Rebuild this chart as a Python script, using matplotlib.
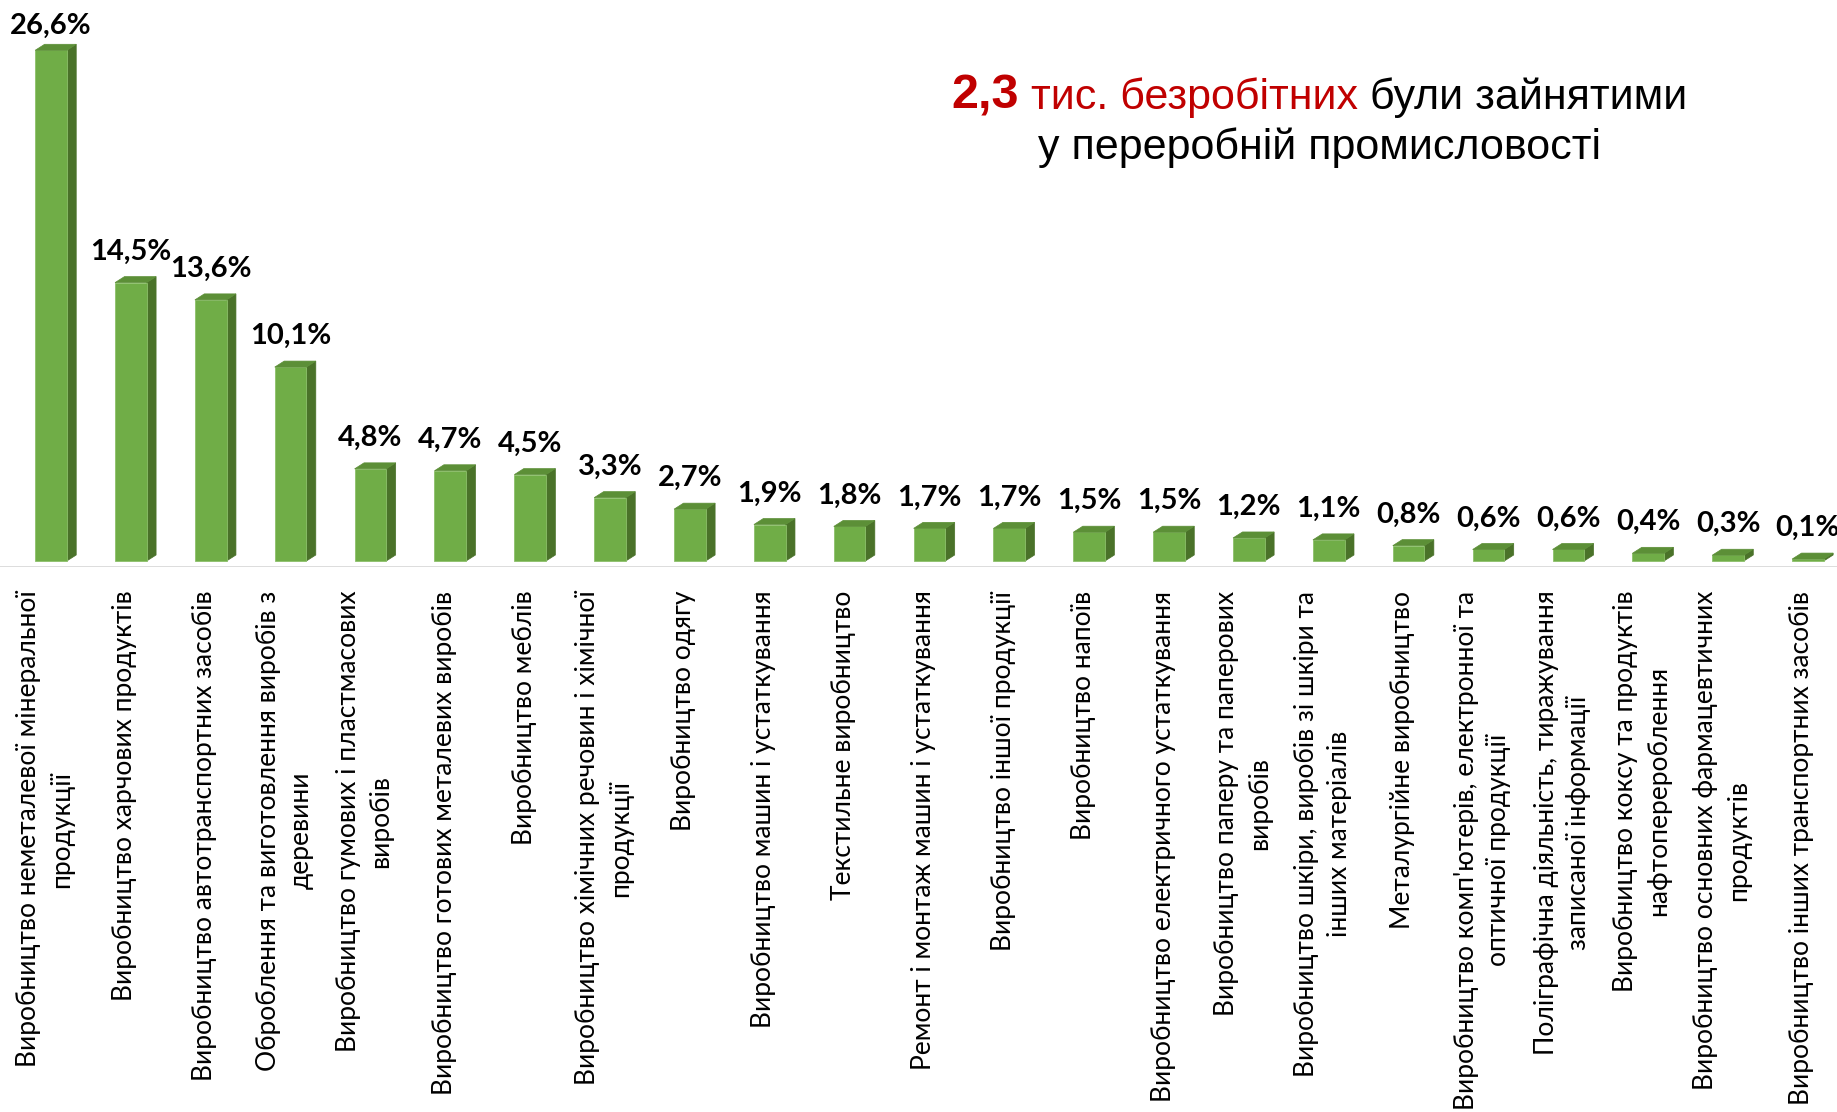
import matplotlib.pyplot as plt
from matplotlib.patches import Polygon

categories = [
    "Виробництво неметалевої мінеральної\nпродукції",
    "Виробництво харчових продуктів",
    "Виробництво автотранспортних засобів",
    "Оброблення та виготовлення виробів з\nдеревини",
    "Виробництво гумових і пластмасових\nвиробів",
    "Виробництво готових металевих виробів",
    "Виробництво меблів",
    "Виробництво хімічних речовин і хімічної\nпродукції",
    "Виробництво одягу",
    "Виробництво машин і устаткування",
    "Текстильне виробництво",
    "Ремонт і монтаж машин і устаткування",
    "Виробництво іншої продукції",
    "Виробництво напоїв",
    "Виробництво електричного устаткування",
    "Виробництво паперу та паперових\nвиробів",
    "Виробництво шкіри, виробів зі шкіри та\nінших матеріалів",
    "Металургійне виробництво",
    "Виробництво комп'ютерів, електронної та\nоптичної продукції",
    "Поліграфічна діяльність, тиражування\nзаписаної інформації",
    "Виробництво коксу та продуктів\nнафтоперероблення",
    "Виробництво основних фармацевтичних\nпродуктів",
    "Виробництво інших транспортних засобів",
]
shares = [26.6, 14.5, 13.6, 10.1, 4.8, 4.7, 4.5, 3.3, 2.7, 1.9, 1.8, 1.7, 1.7,
          1.5, 1.5, 1.2, 1.1, 0.8, 0.6, 0.6, 0.4, 0.3, 0.1]
value_labels = [f"{v:.1f}%".replace(".", ",") for v in shares]

FRONT = "#70ad47"
SIDE = "#4a7229"
TOP = "#5c8f37"

W, H = 1837, 1112
fig = plt.figure(figsize=(W / 100, H / 100), dpi=100)

# axes: y=0 at bar bottoms, 19.2 px per percent
px_per_unit_y = 19.2
axis_px = 567
ax = fig.add_axes([0, 1 - axis_px / H, 1, axis_px / H])
y0 = -6 / px_per_unit_y
ymax = y0 + axis_px / px_per_unit_y
ax.set_ylim(y0, ymax)
pitch = 79.86
ax.set_xlim(-45 / pitch, (W - 45) / pitch)

x = list(range(len(shares)))
shift = 0.075
bw = 0.396
dx = 0.118
dy = 6 / px_per_unit_y
label_gap = 17 / px_per_unit_y
label_top = ymax - 34 / px_per_unit_y

ax.bar([i + shift for i in x], shares, width=bw, color=FRONT,
       edgecolor="#8cc06a", linewidth=0.6, zorder=3)
for i, v in zip(x, shares):
    left = i + shift - bw / 2
    right = i + shift + bw / 2
    ax.add_patch(Polygon([(right, 0), (right + dx, dy), (right + dx, v + dy), (right, v)],
                         closed=True, facecolor=SIDE, edgecolor=SIDE, linewidth=0.5, zorder=2))
    ax.add_patch(Polygon([(left, v), (right, v), (right + dx, v + dy), (left + dx, v + dy)],
                         closed=True, facecolor=TOP, edgecolor=TOP, linewidth=0.5, zorder=4))
    ax.text(i + shift, min(v + dy + label_gap, label_top), value_labels[i],
            ha="center", va="baseline", fontsize=21, fontweight="bold",
            family="Lato", color="black")

ax.axhline(y0, color="#d9d9d9", linewidth=2, zorder=1)
ax.set_xticks(x)
ax.set_xticklabels(categories, rotation=90, va="top", ha="center", fontsize=19,
                   family="Lato", linespacing=1.38)
ax.tick_params(axis="x", length=0, pad=17)
ax.set_yticks([])
for s in ax.spines.values():
    s.set_visible(False)
ax.patch.set_alpha(0)

# title in two lines, mixed colours
renderer = fig.canvas.get_renderer()
center_x = 1319
pieces = [("2,3", "bold", "#c00000", 35),
          (" тис. безробітних", "normal", "#c00000", 31),
          (" були зайнятими", "normal", "black", 31)]
texts = []
total = 0
for s, wgt, col, fs in pieces:
    t = fig.text(0, 0, s, fontsize=fs, fontweight=wgt, color=col,
                 family="Liberation Sans", va="baseline", ha="left")
    wpx = t.get_window_extent(renderer).width
    texts.append((t, wpx))
    total += wpx
cur = center_x - total / 2
for t, wpx in texts:
    t.set_position((cur / W, 1 - 109 / H))
    cur += wpx
fig.text(center_x / W, 1 - 159 / H, "у переробній промисловості", fontsize=31,
         family="Liberation Sans", va="baseline", ha="center", color="black")

fig.savefig("out.png", dpi=100)
